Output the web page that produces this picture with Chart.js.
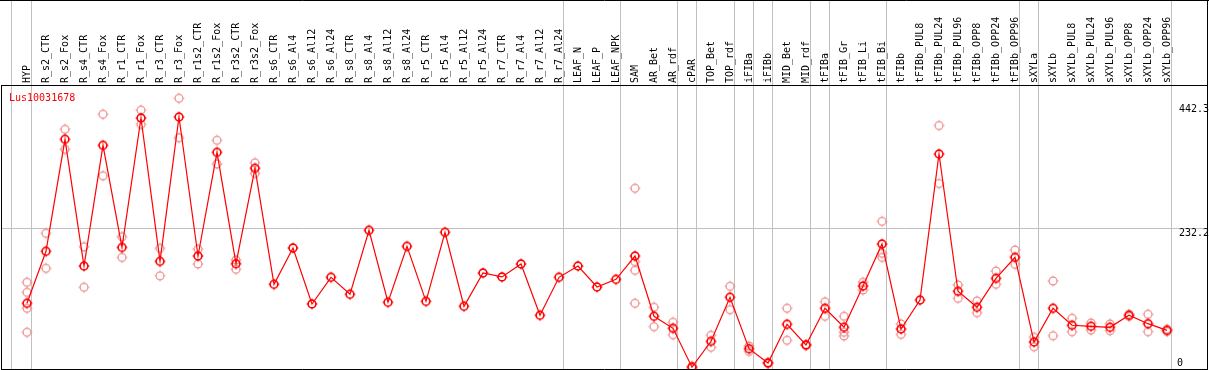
<!DOCTYPE html>
<html><head><meta charset="utf-8">
<script src="https://cdn.jsdelivr.net/npm/chart.js@4"></script>
<style>html,body{margin:0;padding:0;background:#fff;overflow:hidden}#wrap{width:1209px;height:370px;position:relative}</style>
</head><body><div id="wrap"><canvas id="c" width="1209" height="370"></canvas></div>
<script>
const geneName = 'Lus10031678';
const categories = ['HYP','R_s2_CTR','R_s2_Fox','R_s4_CTR','R_s4_Fox','R_r1_CTR','R_r1_Fox','R_r3_CTR','R_r3_Fox','R_r1s2_CTR','R_r1s2_Fox','R_r3s2_CTR','R_r3s2_Fox','R_s6_CTR','R_s6_Al4','R_s6_Al12','R_s6_Al24','R_s8_CTR','R_s8_Al4','R_s8_Al12','R_s8_Al24','R_r5_CTR','R_r5_Al4','R_r5_Al12','R_r5_Al24','R_r7_CTR','R_r7_Al4','R_r7_Al12','R_r7_Al24','LEAF_N','LEAF_P','LEAF_NPK','SAM','AR_Bet','AR_rdf','cPAR','TOP_Bet','TOP_rdf','iFIBa','iFIBb','MID_Bet','MID_rdf','tFIBa','tFIB_Gr','tFIB_Li','tFIB_Bi','tFIBb','tFIBb_PUL8','tFIBb_PUL24','tFIBb_PUL96','tFIBb_OPP8','tFIBb_OPP24','tFIBb_OPP96','sXYLa','sXYLb','sXYLb_PUL8','sXYLb_PUL24','sXYLb_PUL96','sXYLb_OPP8','sXYLb_OPP24','sXYLb_OPP96'];
const means = [105.5,193.4,382.7,168.5,372.5,200,418.7,176.4,420.4,185.4,360.7,172.4,333.7,137.6,199,104.3,149.4,120.7,228.9,107.2,201.8,108.8,225.5,100.4,156.7,150,171.9,85.2,149.4,168.5,133,146,185.4,83.5,63.2,-2.5,41.2,115.6,28.7,4.6,70,35,97,64.9,134.7,205.7,62,111,357.8,125.8,98.7,147.7,183.2,40,97,68.3,66.6,64.9,85.2,71,59.8];
const replicates = [[141,124,97,56.5],[223.8,164.6],[399.6,365.8],[201,132.5],[425,321],[218,183],[432,408],[198.4,152],[452,385.4],[197,172],[381,341],[178.7,163],[343,325],[],[],[],[],[],[],[],[],[],[],[],[],[],[],[],[],[],[],[],[299.9,175.8,161.3,105.5],[98.7,66],[73.4,52.4],[-1,-4],[51.4,31.1],[134.2,94.7],[33.3,24.3],[5.5,3.5],[97,42.9],[36,34],[108,83.5],[83.5,56.5,50.2],[141,128],[244,190,183],[70.5,53],[],[406,308],[136.4,113.9],[109.4,89.6],[160,137.6],[195.6,171.4],[48,32.1],[143.2,50.7],[80.1,57.5],[72.2,60.3],[70.5,59.2],[86.9,83.5],[86.9,57.5],[61.5,58]];
const yTicks = [0, 232.2, 442.3];
const separators = [-0.82,0.2,28.2,31.2,34.2,35.2,37.2,38.2,39.2,41.2,42.2,45.2,52.2,53.2,60.2];

const FONT = '10px "DejaVu Sans Mono", monospace';

function marker(color, lw) {
  const c = document.createElement('canvas'); c.width = 14; c.height = 14;
  const g = c.getContext('2d');
  g.strokeStyle = color; g.lineWidth = lw;
  g.beginPath(); g.arc(7, 7, 3.9, 0, 2 * Math.PI); g.stroke();
  g.lineWidth = 1; g.beginPath();
  g.moveTo(7, 1.5); g.lineTo(7, 3);
  g.moveTo(7, 11); g.lineTo(7, 12.5);
  g.moveTo(1.5, 7); g.lineTo(3, 7);
  g.moveTo(11, 7); g.lineTo(12.5, 7);
  g.stroke();
  return c;
}
const meanMarker = marker('#ff0000', 1.6);
const repMarker = marker('#ee8e8e', 1.2);

const repPoints = [];
replicates.forEach((arr, i) => arr.forEach(v => repPoints.push({x: i, y: v})));
const meanPoints = means.map((v, i) => ({x: i, y: v}));

const decor = {
  id: 'decor',
  beforeDatasetsDraw(chart) {
    const {ctx, chartArea: a, scales: {x, y}} = chart;
    ctx.save();
    ctx.strokeStyle = '#c0c0c0'; ctx.lineWidth = 1;
    ctx.beginPath();
    separators.forEach(s => {
      const px = Math.round(x.getPixelForValue(s)) + 0.5;
      ctx.moveTo(px, 0); ctx.lineTo(px, a.bottom);
    });
    const gy = Math.round(y.getPixelForValue(232.2)) + 0.5;
    ctx.moveTo(a.left, gy); ctx.lineTo(a.right, gy);
    ctx.stroke();
    ctx.restore();
  },
  afterDatasetsDraw(chart) {
    const {ctx, chartArea: a, scales: {x, y}} = chart;
    ctx.save();
    ctx.strokeStyle = '#000'; ctx.lineWidth = 1;
    ctx.beginPath();
    ctx.moveTo(0, 0.5); ctx.lineTo(1209, 0.5);
    ctx.moveTo(a.left, a.top + 0.5); ctx.lineTo(a.right, a.top + 0.5);
    ctx.moveTo(a.left + 0.5, a.top); ctx.lineTo(a.left + 0.5, a.bottom + 1);
    ctx.moveTo(a.left, a.bottom + 0.5); ctx.lineTo(a.right + 1, a.bottom + 0.5);
    ctx.moveTo(a.right + 0.5, 0); ctx.lineTo(a.right + 0.5, a.bottom + 1);
    ctx.stroke();
    ctx.font = FONT; ctx.fillStyle = '#000';
    categories.forEach((lab, i) => {
      const px = x.getPixelForValue(i);
      ctx.save();
      ctx.translate(px + 3, a.top - 2);
      ctx.rotate(-Math.PI / 2);
      ctx.textAlign = 'left'; ctx.textBaseline = 'alphabetic';
      ctx.fillText(lab, 0, 0);
      ctx.restore();
    });
    yTicks.forEach(v => {
      const py = y.getPixelForValue(v);
      ctx.textBaseline = 'alphabetic';
      if (v === 0) {
        ctx.textAlign = 'left';
        ctx.fillText(String(v), 1177, py);
      } else {
        ctx.textAlign = 'right';
        ctx.fillText(String(v), 1209, py + 8);
      }
    });
    ctx.fillStyle = '#ff0000'; ctx.textAlign = 'left'; ctx.textBaseline = 'alphabetic';
    ctx.fillText(geneName, 9, 101);
    ctx.restore();
  }
};

new Chart(document.getElementById('c'), {
  type: 'line',
  data: {
    datasets: [
      {type: 'line', data: meanPoints, borderColor: '#ff0000', borderWidth: 1.2, pointStyle: meanMarker, pointRadius: 4, tension: 0, order: 0, clip: false},
      {type: 'scatter', data: repPoints, showLine: false, pointStyle: repMarker, pointRadius: 4, order: 1, clip: false}
    ]
  },
  options: {
    responsive: false, animation: false, devicePixelRatio: 1,
    layout: {autoPadding: false, padding: {left: 1, right: 2, top: 85, bottom: 1}},
    plugins: {legend: {display: false}, tooltip: {enabled: false}},
    scales: {
      x: {type: 'linear', min: -1.368, max: 62.105, display: false},
      y: {type: 'linear', min: -5.6, max: 474.5, display: false}
    }
  },
  plugins: [decor]
});
</script>
</body></html>
